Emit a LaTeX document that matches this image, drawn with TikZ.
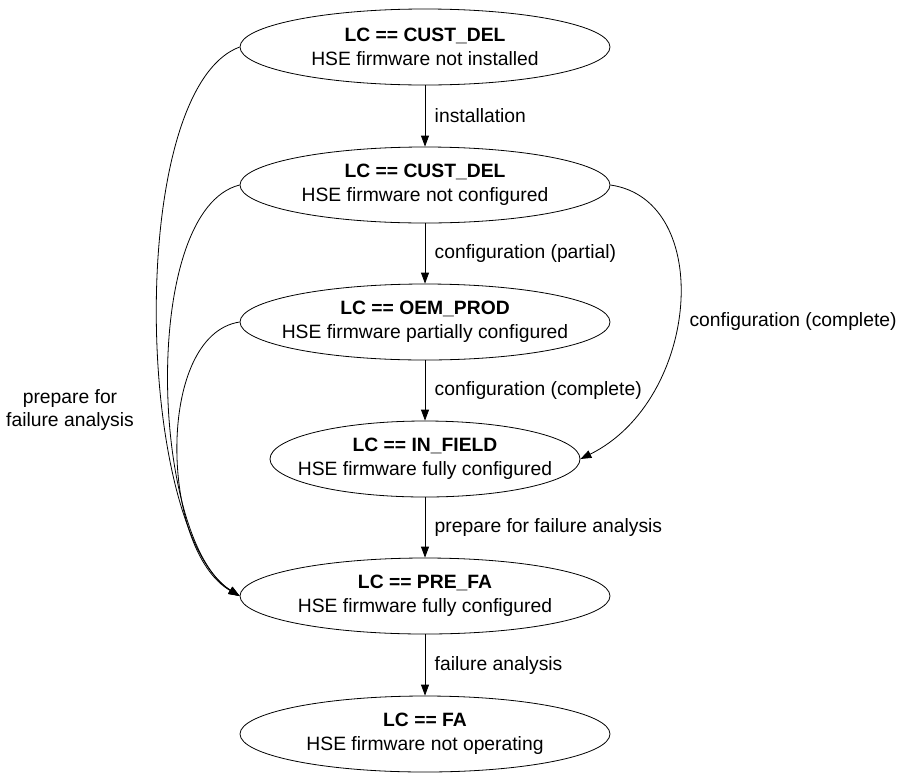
\documentclass[tikz,border=0pt]{standalone}
\usepackage{fontspec}
\setmainfont{Liberation Sans}
\usetikzlibrary{shapes,arrows.meta}

\tikzset{
  lcstate/.style={shape=ellipse,draw,line width=0.8pt,minimum width=370pt,minimum height=76pt,inner xsep=-30pt,inner ysep=0pt,align=center,font=\fontsize{19.3}{24}\selectfont},
  lbl/.style={font=\fontsize{19.3}{22.5}\selectfont,anchor=west},
  trans/.style={-{Triangle[length=11pt,width=8pt]},line width=0.8pt}
}

\begin{document}
\begin{tikzpicture}[x=1pt,y=-1pt]
  \useasboundingbox (0,0) rectangle (904,774);

  \node[lcstate] (A) at (425,47)  {\textbf{LC == CUST\_DEL}\\HSE firmware not installed};
  \node[lcstate] (B) at (425,185) {\textbf{LC == CUST\_DEL}\\HSE firmware not configured};
  \node[lcstate] (C) at (425,322) {\textbf{LC == OEM\_PROD}\\HSE firmware partially configured};
  \node[lcstate,minimum width=310pt] (D) at (425,459) {\textbf{LC == IN\_FIELD}\\HSE firmware fully configured};
  \node[lcstate] (E) at (425,596) {\textbf{LC == PRE\_FA}\\HSE firmware fully configured};
  \node[lcstate] (F) at (425,734) {\textbf{LC == FA}\\HSE firmware not operating};

  \draw[trans] (A) -- (B) node[lbl,midway,xshift=6pt] (l1) {installation};
  \draw[trans] (B) -- (C) node[lbl,midway,xshift=6pt] (l2) {configuration (partial)};
  \draw[trans] (C) -- (D) node[lbl,midway,xshift=6pt] (l3) {configuration (complete)};
  \draw[trans] (D) -- (E) node[lbl,midway,xshift=6pt] (l4) {prepare for failure analysis};
  \draw[trans] (E) -- (F) node[lbl,midway,xshift=6pt] (l5) {failure analysis};

  % skip to IN_FIELD
  \draw[trans] (B.east) .. controls (715,200) and (700,400) .. (D.east);
  \node[lbl] (l6) at (686,322) {configuration (complete)};

  % prepare for failure analysis from the earlier states
  \draw[trans] (A.west) .. controls (125,90) and (135,530) .. (E.west);
  \draw[trans] (B.west) .. controls (140,210) and (150,540) .. (E.west);
  \draw[trans] (C.west) .. controls (155,335) and (160,550) .. (E.west);
  \node[font=\fontsize{19.3}{22.5}\selectfont,align=center] (l7) at (70,410) {prepare for\\failure analysis};

\end{tikzpicture}
\end{document}
